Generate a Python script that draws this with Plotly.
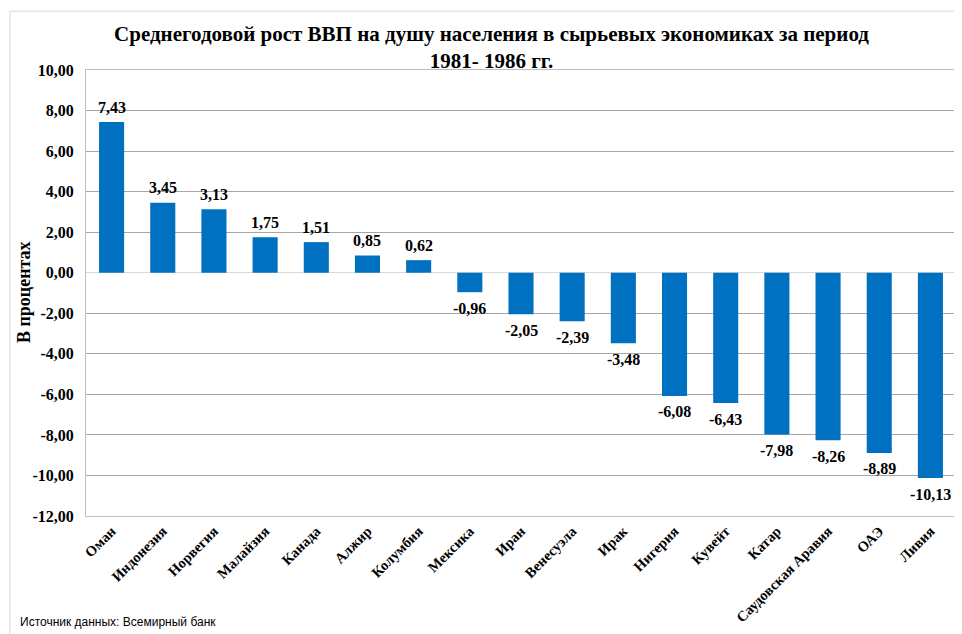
import plotly.graph_objects as go

countries = ["Оман", "Индонезия", "Норвегия", "Малайзия", "Канада", "Алжир", "Колумбия",
             "Мексика", "Иран", "Венесуэла", "Ирак", "Нигерия", "Кувейт", "Катар",
             "Саудовская Аравия", "ОАЭ", "Ливия"]
growth = [7.43, 3.45, 3.13, 1.75, 1.51, 0.85, 0.62, -0.96, -2.05, -2.39, -3.48,
          -6.08, -6.43, -7.98, -8.26, -8.89, -10.13]
y_ticks = [-12, -10, -8, -6, -4, -2, 0, 2, 4, 6, 8, 10]

def fmt(v):
    return f"{v:.2f}".replace(".", ",")

serif = "Liberation Serif, Times New Roman, serif"

fig = go.Figure(go.Bar(
    x=countries, y=growth,
    marker=dict(color="#0070C0", line=dict(width=0)),
    width=0.49,
))

# data labels, placed at each bar's end
label_annotations = [
    dict(x=c, y=v, xref="x", yref="y", text=f"<b>{fmt(v)}</b>", showarrow=False,
         xanchor="center", yanchor="middle", yshift=(15 if v >= 0 else -16),
         font=dict(family=serif, size=16, color="#000000"))
    for c, v in zip(countries, growth)
]

# page body adds an 8px offset; figure sized to fill the remaining window
fig.update_layout(
    width=954, height=626,
    paper_bgcolor="white", plot_bgcolor="white",
    margin=dict(l=78, r=6, t=62, b=118, autoexpand=False),
    showlegend=False,
    title=dict(
        text="<b>Среднегодовой рост ВВП на душу населения в сырьевых экономиках за период<br>1981- 1986 гг.</b>",
        font=dict(family=serif, size=21, color="#000000"),
        x=0.5068, xanchor="center", y=0.947, yanchor="middle",
    ),
    shapes=[dict(type="rect", xref="paper", yref="paper", x0=-0.0875, x1=1.03, y0=-0.35, y1=1.132,
                 line=dict(color="#D9D9D9", width=1), layer="below")],
    annotations=label_annotations + [
        dict(text="<b>В процентах</b>", xref="paper", yref="paper", x=-0.0713, y=0.502,
             xanchor="center", yanchor="middle", textangle=-90, showarrow=False,
             font=dict(family=serif, size=18, color="#000000")),
        dict(text="Источник данных: Всемирный банк", xref="paper", yref="paper",
             x=-0.078, y=-0.2377, xanchor="left", yanchor="middle", showarrow=False,
             font=dict(family="Liberation Sans, Arial, sans-serif", size=12, color="#000000"))],
)

fig.update_yaxes(
    range=[-12, 10], automargin=False,
    tickvals=y_ticks, ticktext=[f"<b>{fmt(v)}</b>" for v in y_ticks],
    tickfont=dict(family=serif, size=16, color="#000000"),
    ticklabelstandoff=8,
    showgrid=True, gridcolor="#A6A6A6", gridwidth=1,
    zeroline=True, zerolinecolor="#D9D9D9", zerolinewidth=1,
    showline=True, linecolor="#BFBFBF", mirror=True,
    ticks="",
)
fig.update_xaxes(
    automargin=False,
    tickangle=-45,
    tickvals=countries, ticktext=[f"<b>{c}</b>" for c in countries],
    tickfont=dict(family=serif, size=14.5, color="#000000"),
    showline=True, linecolor="#BFBFBF", mirror=True,
    showgrid=False, ticks="",
)

fig.write_html("out.html")
